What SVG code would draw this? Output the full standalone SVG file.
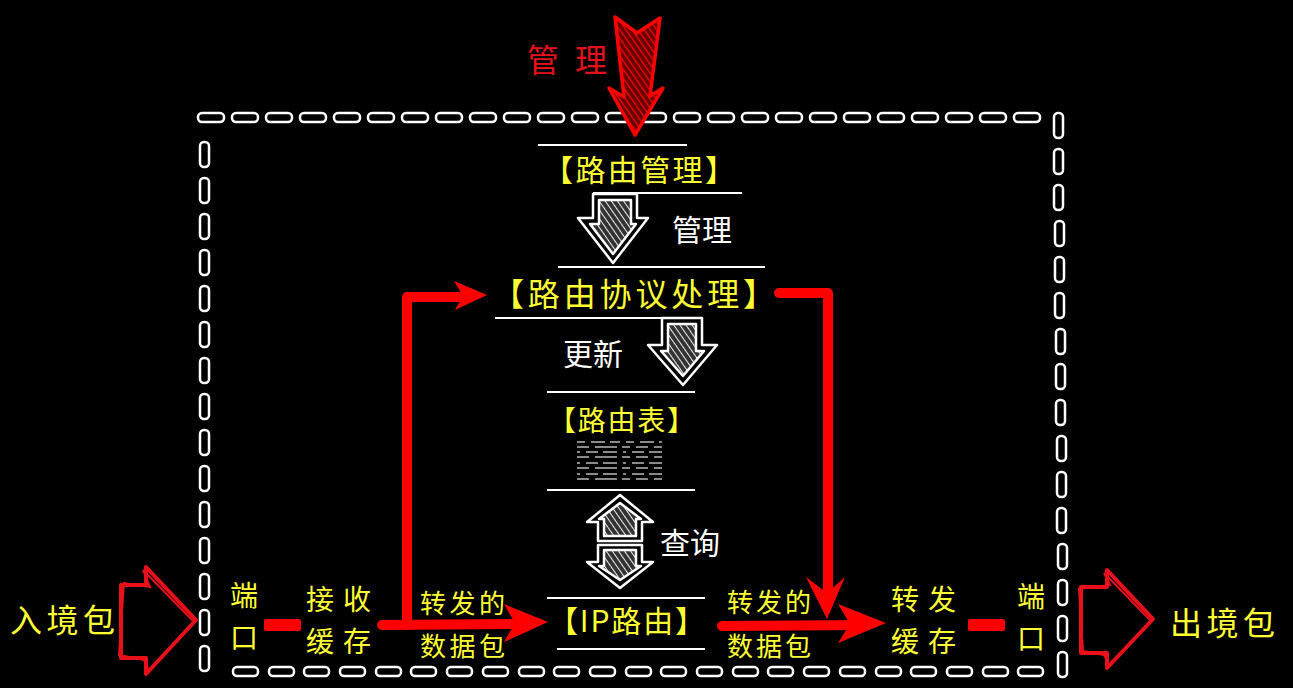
<svg xmlns="http://www.w3.org/2000/svg" width="1293" height="688" viewBox="0 0 1293 688">
<defs>
<pattern id="hatchW" width="5" height="5" patternUnits="userSpaceOnUse" patternTransform="rotate(-35)">
<rect width="5" height="5" fill="#333"/>
<line x1="0" y1="0" x2="0" y2="5" stroke="#eee" stroke-width="2"/>
</pattern>
<pattern id="hatchR" width="5" height="5" patternUnits="userSpaceOnUse" patternTransform="rotate(-35)">
<rect width="5" height="5" fill="#600"/>
<line x1="0" y1="0" x2="0" y2="5" stroke="#f00" stroke-width="2.5"/>
</pattern>
</defs>
<style>
.bg{fill:#000}
.dash{fill:none;stroke:#fff;stroke-width:2.5}
.rule{stroke:#fff;stroke-width:2}
.y{fill:#ffff33;font-family:"Noto Sans CJK SC","Noto Sans",sans-serif}
.w{fill:#fff;font-family:"Noto Sans CJK SC","Noto Sans",sans-serif}
.r{fill:#e8101a;font-family:"Noto Sans CJK SC","Noto Sans",sans-serif}
.wa{fill:url(#hatchW);stroke:#fff;stroke-width:2.5;stroke-linejoin:round}
.wo{fill:none;stroke:#fff;stroke-width:2.5;stroke-linejoin:round}
.line{fill:none;stroke:#f00;stroke-linecap:round;stroke-linejoin:round}
.head{fill:#f00}
.hollow{fill:none;stroke:#e8101a;stroke-width:4;stroke-linejoin:round}
.tbl{stroke:#8a8a8a;stroke-width:2}
.stack{font-size:28px}
</style>
<rect class="bg" x="0" y="0" width="1293" height="688"/>

<g id="border">
<g id="border-top">
<rect class="dash" x="198" y="113" width="26" height="9" rx="4"/>
<rect class="dash" x="232" y="113" width="26" height="9" rx="4"/>
<rect class="dash" x="266" y="113" width="26" height="9" rx="4"/>
<rect class="dash" x="300" y="113" width="26" height="9" rx="4"/>
<rect class="dash" x="334" y="113" width="26" height="9" rx="4"/>
<rect class="dash" x="368" y="113" width="26" height="9" rx="4"/>
<rect class="dash" x="402" y="113" width="26" height="9" rx="4"/>
<rect class="dash" x="436" y="113" width="26" height="9" rx="4"/>
<rect class="dash" x="470" y="113" width="26" height="9" rx="4"/>
<rect class="dash" x="504" y="113" width="26" height="9" rx="4"/>
<rect class="dash" x="538" y="113" width="26" height="9" rx="4"/>
<rect class="dash" x="572" y="113" width="26" height="9" rx="4"/>
<rect class="dash" x="606" y="113" width="26" height="9" rx="4"/>
<rect class="dash" x="640" y="113" width="26" height="9" rx="4"/>
<rect class="dash" x="674" y="113" width="26" height="9" rx="4"/>
<rect class="dash" x="708" y="113" width="26" height="9" rx="4"/>
<rect class="dash" x="742" y="113" width="26" height="9" rx="4"/>
<rect class="dash" x="776" y="113" width="26" height="9" rx="4"/>
<rect class="dash" x="810" y="113" width="26" height="9" rx="4"/>
<rect class="dash" x="844" y="113" width="26" height="9" rx="4"/>
<rect class="dash" x="878" y="113" width="26" height="9" rx="4"/>
<rect class="dash" x="912" y="113" width="26" height="9" rx="4"/>
<rect class="dash" x="946" y="113" width="26" height="9" rx="4"/>
<rect class="dash" x="980" y="113" width="26" height="9" rx="4"/>
<rect class="dash" x="1014" y="113" width="26" height="9" rx="4"/>
</g>
<g id="border-left">
<rect class="dash" x="200" y="142" width="9" height="25" rx="4"/>
<rect class="dash" x="200" y="178" width="9" height="25" rx="4"/>
<rect class="dash" x="200" y="214" width="9" height="25" rx="4"/>
<rect class="dash" x="200" y="250" width="9" height="25" rx="4"/>
<rect class="dash" x="200" y="286" width="9" height="25" rx="4"/>
<rect class="dash" x="200" y="322" width="9" height="25" rx="4"/>
<rect class="dash" x="200" y="358" width="9" height="25" rx="4"/>
<rect class="dash" x="200" y="394" width="9" height="25" rx="4"/>
<rect class="dash" x="200" y="430" width="9" height="25" rx="4"/>
<rect class="dash" x="200" y="466" width="9" height="25" rx="4"/>
<rect class="dash" x="200" y="502" width="9" height="25" rx="4"/>
<rect class="dash" x="200" y="538" width="9" height="25" rx="4"/>
<rect class="dash" x="200" y="574" width="9" height="25" rx="4"/>
<rect class="dash" x="200" y="610" width="9" height="25" rx="4"/>
<rect class="dash" x="200" y="646" width="9" height="25" rx="4"/>
</g>
<g id="border-bottom">
<rect class="dash" x="233" y="667" width="25" height="9" rx="4"/>
<rect class="dash" x="269" y="667" width="25" height="9" rx="4"/>
<rect class="dash" x="304" y="667" width="25" height="9" rx="4"/>
<rect class="dash" x="340" y="667" width="25" height="9" rx="4"/>
<rect class="dash" x="376" y="667" width="25" height="9" rx="4"/>
<rect class="dash" x="411" y="667" width="25" height="9" rx="4"/>
<rect class="dash" x="447" y="667" width="25" height="9" rx="4"/>
<rect class="dash" x="483" y="667" width="25" height="9" rx="4"/>
<rect class="dash" x="519" y="667" width="25" height="9" rx="4"/>
<rect class="dash" x="554" y="667" width="25" height="9" rx="4"/>
<rect class="dash" x="590" y="667" width="25" height="9" rx="4"/>
<rect class="dash" x="626" y="667" width="25" height="9" rx="4"/>
<rect class="dash" x="661" y="667" width="25" height="9" rx="4"/>
<rect class="dash" x="697" y="667" width="25" height="9" rx="4"/>
<rect class="dash" x="733" y="667" width="25" height="9" rx="4"/>
<rect class="dash" x="768" y="667" width="25" height="9" rx="4"/>
<rect class="dash" x="804" y="667" width="25" height="9" rx="4"/>
<rect class="dash" x="840" y="667" width="25" height="9" rx="4"/>
<rect class="dash" x="876" y="667" width="25" height="9" rx="4"/>
<rect class="dash" x="911" y="667" width="25" height="9" rx="4"/>
<rect class="dash" x="947" y="667" width="25" height="9" rx="4"/>
<rect class="dash" x="983" y="667" width="25" height="9" rx="4"/>
<rect class="dash" x="1018" y="667" width="25" height="9" rx="4"/>
</g>
<g id="border-right">
<rect class="dash" x="1054" y="113" width="9" height="25" rx="4"/>
<rect class="dash" x="1054" y="149" width="9" height="25" rx="4"/>
<rect class="dash" x="1054" y="185" width="9" height="25" rx="4"/>
<rect class="dash" x="1055" y="221" width="9" height="25" rx="4"/>
<rect class="dash" x="1055" y="257" width="9" height="25" rx="4"/>
<rect class="dash" x="1055" y="293" width="9" height="25" rx="4"/>
<rect class="dash" x="1056" y="329" width="9" height="25" rx="4"/>
<rect class="dash" x="1056" y="364" width="9" height="25" rx="4"/>
<rect class="dash" x="1056" y="400" width="9" height="25" rx="4"/>
<rect class="dash" x="1057" y="436" width="9" height="25" rx="4"/>
<rect class="dash" x="1057" y="472" width="9" height="25" rx="4"/>
<rect class="dash" x="1057" y="508" width="9" height="25" rx="4"/>
<rect class="dash" x="1058" y="544" width="9" height="25" rx="4"/>
<rect class="dash" x="1058" y="580" width="9" height="25" rx="4"/>
<rect class="dash" x="1058" y="616" width="9" height="25" rx="4"/>
<rect class="dash" x="1058" y="652" width="9" height="25" rx="4"/>
</g>
</g>

<g id="connectors">
<g id="mgmt-arrow">
<path d="M615,17 L637,33 L660,18 L650,96 L663,88 L635,135 L609,88 L624,97 Z" fill="url(#hatchR)" stroke="#f00" stroke-width="3.5" stroke-linejoin="round"/>
</g>
<g id="to-protocol">
<path class="line" d="M407,625 L407,297 L468,297" stroke-width="10"/>
<path class="head" d="M487,295 L454,281 L463,296 L455,310 Z"/>
</g>
<g id="protocol-to-fwdbuf">
<path class="line" d="M779,293 L828,293 L828,600" stroke-width="10"/>
<path class="head" d="M827,619 L806,577 L827,593 L845,577 Z"/>
</g>
<g id="recv-to-ip">
<path class="line" d="M382,625 L525,624" stroke-width="10"/>
<path class="head" d="M548,622 L504,604 L515,623 L504,642 Z"/>
</g>
<g id="ip-to-fwd">
<path class="line" d="M722,626 L862,625" stroke-width="10"/>
<path class="head" d="M886,623 L838,604 L850,624 L838,643 Z"/>
</g>
<g id="port-in-bar">
<rect x="264" y="619" width="37" height="12" rx="2" fill="#f00"/>
</g>
<g id="port-out-bar">
<rect x="968" y="619" width="37" height="12" rx="2" fill="#f00"/>
</g>
<g id="in-arrow">
<path class="hollow" d="M121,585 L146,585 L146,567 L196,620 L146,674 L146,658 L121,658 Z"/>
<path fill="none" stroke="#e8101a" stroke-width="2" d="M124,583 L150,587 L143,570 L194,622 L149,671 L144,660 L119,655 Z"/>
</g>
<g id="out-arrow">
<path class="hollow" d="M1081,587 L1107,587 L1107,570 L1153,619 L1107,668 L1107,653 L1081,653 Z"/>
<path fill="none" stroke="#e8101a" stroke-width="2" d="M1079,589 L1110,585 L1104,573 L1151,621 L1109,665 L1104,655 L1083,651 Z"/>
</g>
<g id="mgmt-down">
<path class="wo" d="M593,194 L637,194 L637,218 L648,218 L613,263 L578,218 L593,218 Z"/>
<path class="wa" d="M599,200 L631,200 L631,224 L636,224 L613,254 L590,224 L599,224 Z"/>
</g>
<g id="update-down">
<path class="wo" d="M662,318 L702,318 L702,345 L717,345 L683,385 L648,345 L662,345 Z"/>
<path class="wa" d="M668,324 L696,324 L696,351 L704,351 L683,376 L661,351 L668,351 Z"/>
</g>
<g id="query-both">
<path class="wo" d="M620,495 L653,522 L642,522 L642,541 L598,541 L598,522 L587,522 Z"/>
<path class="wa" d="M620,503 L641,519 L636,519 L636,536 L604,536 L604,519 L599,519 Z"/>
<path class="wo" d="M598,545 L642,545 L642,562 L653,562 L620,588 L587,562 L598,562 Z"/>
<path class="wa" d="M604,550 L636,550 L636,566 L641,566 L620,580 L599,566 L604,566 Z"/>
</g>
</g>

<g id="n-mgmt-label"><text class="r" x="527" y="72" font-size="32" textLength="80" lengthAdjust="spacing">管理</text></g>

<g id="n-route-mgmt">
<line class="rule" x1="538" y1="145" x2="687" y2="145"/>
<text class="y" x="543" y="181" font-size="30" textLength="192" lengthAdjust="spacing">【路由管理】</text>
<line class="rule" x1="593" y1="193" x2="742" y2="193"/>
</g>
<g id="n-mgmt-text"><text class="w" x="672" y="241" font-size="30">管理</text></g>

<g id="n-protocol">
<line class="rule" x1="558" y1="267" x2="765" y2="267"/>
<text class="y" x="492" y="306" font-size="32" textLength="283" lengthAdjust="spacing">【路由协议处理】</text>
<line class="rule" x1="495" y1="318" x2="702" y2="318"/>
</g>
<g id="n-update-text"><text class="w" x="563" y="365" font-size="30">更新</text></g>

<g id="n-table">
<line class="rule" x1="547" y1="392" x2="695" y2="392"/>
<text class="y" x="548" y="431" font-size="28" textLength="147" lengthAdjust="spacing">【路由表】</text>
<g class="tbl">
<line x1="577" y1="442" x2="662" y2="442" stroke-dasharray="8,6,14,5,10,6"/>
<line x1="577" y1="447" x2="662" y2="447" stroke-dasharray="12,6,22,5,8,6"/>
<line x1="577" y1="452" x2="662" y2="452" stroke-dasharray="3,6,12,5,14,6"/>
<line x1="577" y1="457" x2="662" y2="457" stroke-dasharray="12,6,22,5,8,6"/>
<line x1="577" y1="463" x2="662" y2="463" stroke-dasharray="3,6,12,5,14,6"/>
<line x1="577" y1="468" x2="662" y2="468" stroke-dasharray="12,6,22,5,8,6"/>
<line x1="577" y1="474" x2="662" y2="474" stroke-dasharray="3,6,12,5,14,6"/>
<line x1="577" y1="479" x2="662" y2="479" stroke-dasharray="12,6,22,5,8,6"/>
</g>
<line class="rule" x1="547" y1="490" x2="695" y2="490"/>
</g>
<g id="n-query-text"><text class="w" x="660" y="554" font-size="30">查询</text></g>

<g id="n-ip">
<line class="rule" x1="547" y1="598" x2="705" y2="598"/>
<text class="y" x="548" y="632" font-size="30" textLength="157" lengthAdjust="spacing">【IP路由】</text>
<line class="rule" x1="557" y1="649" x2="705" y2="649"/>
</g>

<g id="n-in"><text class="y" x="10" y="632" font-size="32" textLength="105" lengthAdjust="spacing">入境包</text></g>
<g id="n-port-in">
<text class="y stack" x="230" y="606">端</text>
<text class="y stack" x="230" y="648">口</text>
</g>
<g id="n-recv">
<text class="y stack" x="306" y="610" letter-spacing="9">接收</text>
<text class="y stack" x="306" y="652" letter-spacing="9">缓存</text>
</g>
<g id="n-fwd-pkt-1">
<text class="y" font-size="26" letter-spacing="3.5" x="420" y="613">转发的</text>
<text class="y" font-size="26" letter-spacing="3.5" x="420" y="656">数据包</text>
</g>
<g id="n-fwd-pkt-2">
<text class="y" font-size="26" letter-spacing="3" x="727" y="612">转发的</text>
<text class="y" font-size="26" letter-spacing="3" x="727" y="656">数据包</text>
</g>
<g id="n-fwdbuf">
<text class="y stack" x="891" y="610" letter-spacing="9">转发</text>
<text class="y stack" x="891" y="652" letter-spacing="9">缓存</text>
</g>
<g id="n-port-out">
<text class="y stack" x="1017" y="607">端</text>
<text class="y stack" x="1017" y="649">口</text>
</g>
<g id="n-out"><text class="y" x="1170" y="635" font-size="32" textLength="105" lengthAdjust="spacing">出境包</text></g>
</svg>
